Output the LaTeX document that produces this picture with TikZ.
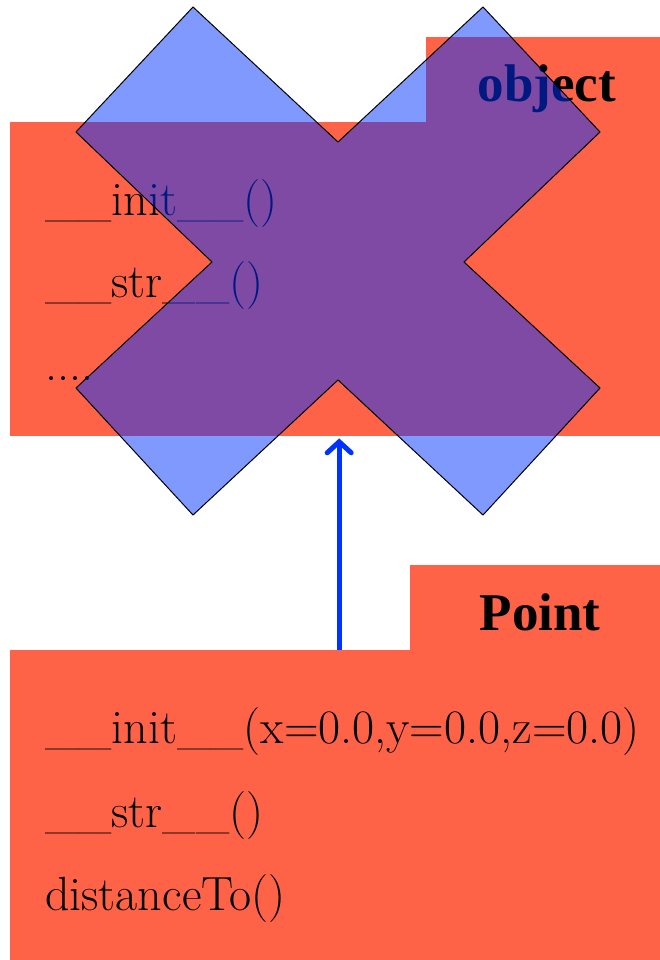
\documentclass[tikz,border=0pt]{standalone}
\usepackage{fontspec}
\usepackage{xcolor}
\usepackage{tikz}
\usetikzlibrary{arrows.meta,positioning,calc}
\newfontfamily\titlefont{Liberation Serif}
\definecolor{pkgred}{RGB}{255,99,71}
\definecolor{xblue}{RGB}{0,51,255}

\begin{document}
\begin{tikzpicture}[
  x=1pt, y=-1pt,
  pkg/.style={fill=pkgred, inner sep=0pt, anchor=north west},
  title/.style={font=\titlefont\bfseries\fontsize{53}{53}\selectfont, inner sep=0pt, anchor=base},
  meth/.style={font=\fontsize{48}{48}\selectfont, inner sep=0pt, anchor=base west},
  >={Straight Barb[length=11pt, width=24pt, line cap=round]},
]
\useasboundingbox (0,0) rectangle (660,960);
% class object
\node[pkg, minimum width=234pt, minimum height=90pt] (objtab) at (426,37) {};
\node[pkg, minimum width=650pt, minimum height=314pt] (objbody) at (10,122) {};
\node[title] (objname) at (547,102) {object};
\node[meth] (oinit) at (45,215) {\_\_init\_\_()};
\node[meth] (ostr) at (45,297) {\_\_str\_\_()};
\node[meth] (odots) at (45,380) {....};
% class Point
\node[pkg, minimum width=250pt, minimum height=90pt] (pttab) at (410,565) {};
\node[pkg, minimum width=650pt, minimum height=310pt] (ptbody) at (10,650) {};
\node[title] (ptname) at (540,630) {Point};
\node[meth] (pinit) at (45,743) {\_\_init\_\_(x=0.0,y=0.0,z=0.0)};
\node[meth] (pstr) at (45,827) {\_\_str\_\_()};
\node[meth] (pdist) at (45,910) {distanceTo()};
% inheritance
\draw[->, xblue, line width=5pt] ([xshift=4pt]ptbody.north) -- ([xshift=4pt,yshift=-2pt]objbody.south);
% cross over object
\filldraw[fill=xblue, fill opacity=0.5, draw=black, line width=1pt]
  (193,7) -- (338,142) -- (483,7) -- (600,132) -- (464,262) -- (600,388)
  -- (483,515) -- (338,380) -- (193,515) -- (76,388) -- (212,262) -- (76,132) -- cycle;
\end{tikzpicture}
\end{document}
